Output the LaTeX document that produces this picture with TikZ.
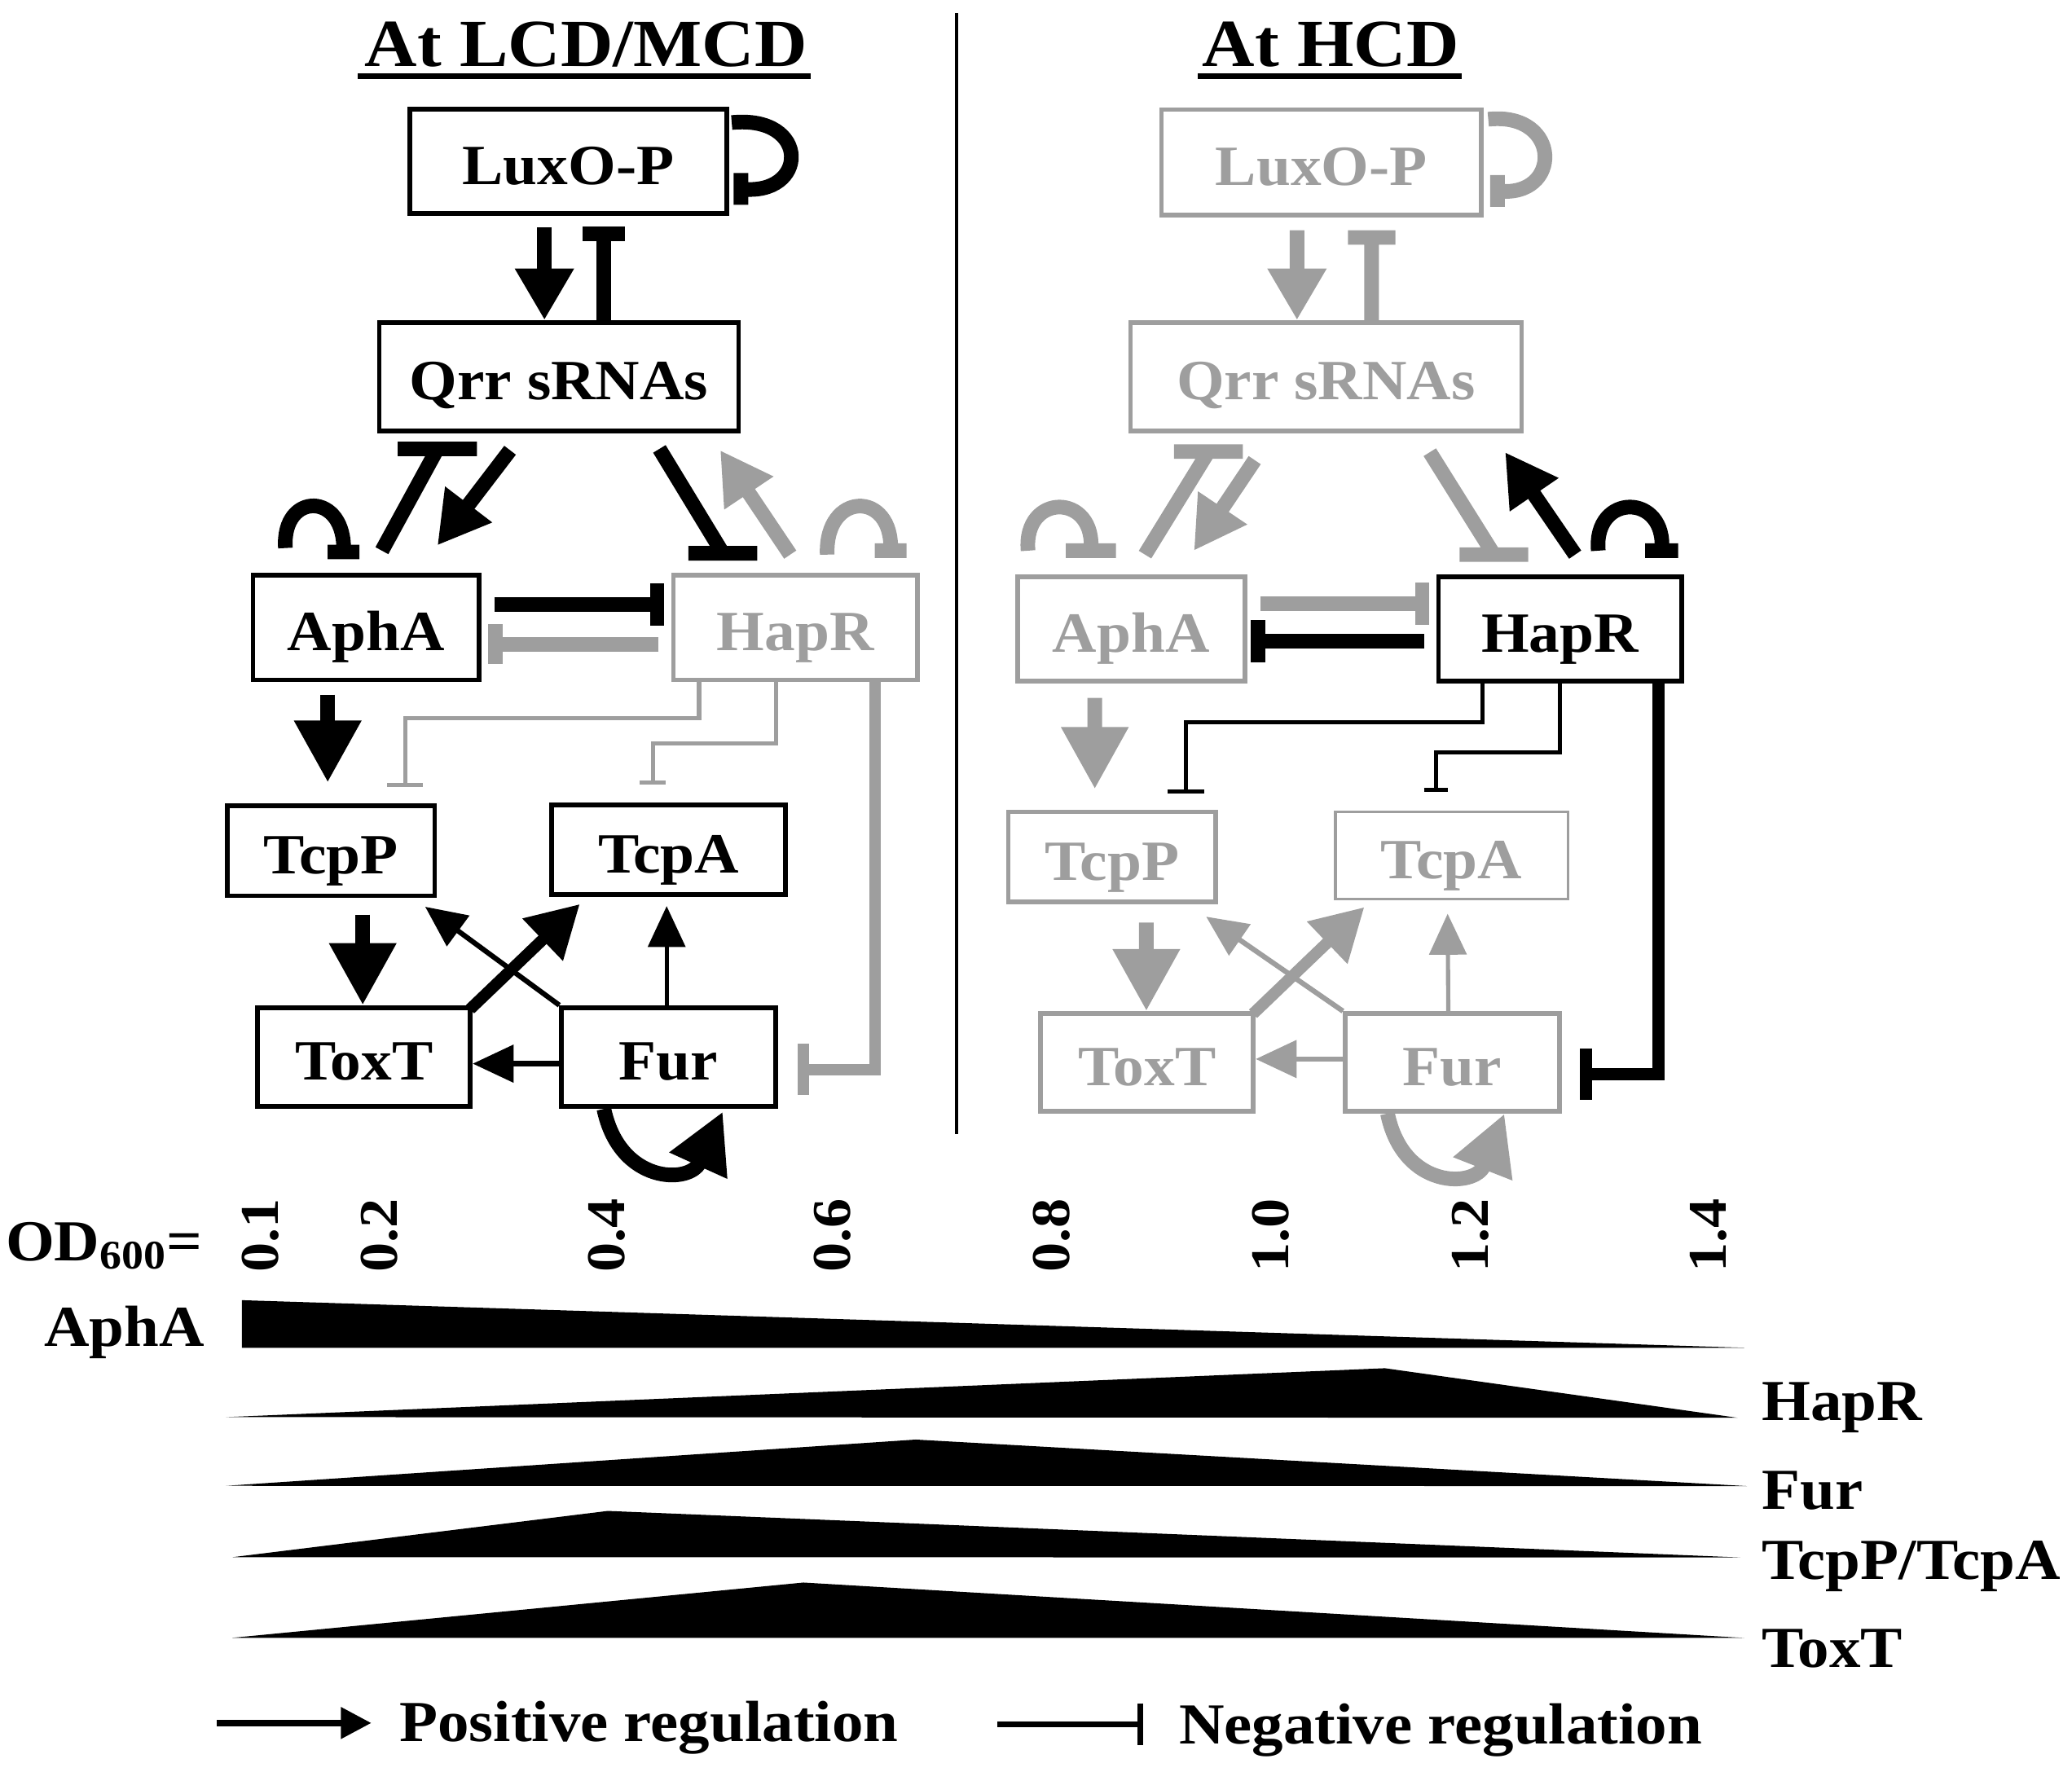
\documentclass[tikz,border=0pt]{standalone}
\usepackage{fontspec}
\setmainfont{Liberation Serif}[FakeStretch=1.08]
\usepackage{tikz}
\usetikzlibrary{arrows.meta, calc, positioning}
\definecolor{qsgrey}{gray}{0.62}
\tikzstyle{box}=[rectangle, draw, line width=2pt, inner sep=0pt, text height=24pt, text depth=4pt, font=\fontsize{24.5}{28}\selectfont\bfseries]
\tikzstyle{ttl}=[inner sep=0pt, font=\fontsize{29}{34}\selectfont\bfseries]
\tikzstyle{lbl}=[inner sep=0pt, font=\fontsize{25}{30}\selectfont\bfseries]
\tikzstyle{ticklbl}=[inner sep=0pt, rotate=90, font=\fontsize{23.5}{28}\selectfont\bfseries]
\tikzstyle{fat}=[line width=6.3pt]
\tikzstyle{med}=[line width=5pt]
\tikzstyle{slim}=[line width=2.2pt]
\tikzstyle{hair}=[line width=1.8pt]
\tikzstyle{legline}=[line width=2.6pt]
\tikzstyle{bighead}=[-{Triangle[length=0.94cm, width=0.96cm]}]
\tikzstyle{midhead}=[-{Triangle[length=0.78cm, width=0.84cm]}]
\tikzstyle{loophead}=[-{Triangle[length=0.9cm, width=0.9cm]}]
\tikzstyle{smallhead}=[-{Triangle[length=0.62cm, width=0.56cm]}]
\tikzset{hbar/.style={to path={-- (\tikztotarget) +(-#1,0) -- +(#1,0)}},
         vbar/.style={to path={-- (\tikztotarget) +(0,-#1) -- +(0,#1)}}}

\begin{document}
\begin{tikzpicture}[x=0.02cm, y=-0.02cm]
\useasboundingbox (0,0) rectangle (1568,1341);

\node[ttl, anchor=base] (ttlL) at (443.5,50) {At LCD/MCD};
\draw[line width=2.3pt] ($(ttlL.base west)+(-5,7.5)$) -- ($(ttlL.base east)+(2,7.5)$);
\node[ttl, anchor=base] (ttlR) at (1007,50) {At HCD};
\draw[line width=2.3pt] ($(ttlR.base west)+(-3,7.5)$) -- ($(ttlR.base east)+(2,7.5)$);
\draw[line width=1.4pt] (724,10) -- (724,858);

      \node[box] (luxoL) at (430,122) [minimum width=4.8cm, minimum height=1.58cm] {LuxO-P};
      \node[box] (qrrL) at (423,285) [minimum width=5.44cm, minimum height=1.64cm] {Qrr sRNAs};
      \node[box] (aphaL) at (277,475) [minimum width=3.42cm, minimum height=1.58cm] {AphA};
      \node[box, qsgrey] (haprL) at (602,475) [minimum width=3.7cm, minimum height=1.58cm] {HapR};
      \node[box] (tcppL) at (250.5,644) [minimum width=3.14cm, minimum height=1.36cm] {TcpP};
      \node[box] (tcpaL) at (506,643) [minimum width=3.54cm, minimum height=1.36cm] {TcpA};
      \node[box] (toxtL) at (275.5,800) [minimum width=3.22cm, minimum height=1.5cm] {ToxT};
      \node[box] (furL) at (506,800) [minimum width=3.24cm, minimum height=1.5cm] {Fur};

      \draw[fat] ($(luxoL.north east)+(2,12)$) .. controls +(60,-6) and +(51,6) .. ($(luxoL.east)+(9,21)$) +(0,-12) -- +(0,12);
      \draw[fat, midhead] ($(luxoL.south)+(-18,9)$) -- ($(qrrL.north)+(-11,0)$);
      \draw[fat] ($(qrrL.north)+(34,0)$) to[hbar=16] ($(luxoL.south)+(27,14)$);
      \draw[fat] ($(aphaL.north)+(-61,-19)$) .. controls +(-3,-43) and +(2,-46) .. ($(aphaL.north)+(-17,-16)$) +(-12,0) -- +(12,0);
      \draw[fat] ($(aphaL.north)+(12,-17)$) to[hbar=30] ($(qrrL.south)+(-92,12)$);
      \draw[fat, midhead] ($(qrrL.south)+(-37,13)$) -- ($(aphaL.north)+(54,-21)$);
      \draw[fat] ($(qrrL.south)+(76,12)$) to[hbar=26] ($(haprL.north)+(-55,-15)$);
      \draw[fat, midhead, qsgrey] ($(haprL.north)+(-4,-14)$) -- ($(qrrL.south)+(122,13)$);
      \draw[fat, qsgrey] ($(haprL.north)+(24,-14)$) .. controls +(-2,-48) and +(2,-46) .. ($(haprL.north)+(72,-17)$) +(-12,0) -- +(12,0);
      \draw[fat] ($(aphaL.east)+(10,-17.5)$) to[vbar=16] ($(haprL.west)+(-10.5,-17.5)$);
      \draw[fat, qsgrey] ($(haprL.west)+(-9.5,12.5)$) to[vbar=15] ($(aphaL.east)+(10.5,12.5)$);
      \draw[fat, bighead] ($(aphaL.south)+(-29,9.5)$) -- ($(tcppL.north)+(-2.5,-16)$);
      \draw[hair, qsgrey] ($(haprL.south)+(-73,0)$) |- ($(tcppL.north)+(56,-64.5)$) to[hbar=13.5] ($(tcppL.north)+(56,-14)$);
      \draw[hair, qsgrey] ($(haprL.south)+(-14.5,0)$) |- ($(tcpaL.north)+(-12,-44.5)$) to[hbar=10] ($(tcpaL.north)+(-12,-15)$);
      \draw[med, qsgrey] ($(haprL.south)+(60,0)$) |- ($(furL.east)+(19,9.5)$) +(0,-19.5) -- +(0,19.5);
      \draw[fat, bighead] ($(tcppL.south)+(24,12.5)$) -- ($(toxtL.north)+(-1,0)$);
      \draw[med, midhead] ($(toxtL.north east)+(-2,3)$) -- ($(tcpaL.south west)+(23,5.5)$);
      \draw[slim, smallhead] (furL.north west) -- ($(tcppL.south east)+(-9,6.5)$);
      \draw[hair, smallhead] ($(furL.north)+(-1.5,0)$) -- ($(tcpaL.south)+(-1.5,7)$);
      \draw[slim, smallhead] ($(furL.west)+(0,5)$) -- ($(toxtL.east)+(0,5)$);
      \draw[fat, loophead] ($(furL.south)+(-49,0)$) .. controls +(12,57) and +(-25,55) .. ($(furL.south)+(41,2)$);

      \node[box, qsgrey] (luxoR) at (1000,123) [minimum width=4.84cm, minimum height=1.6cm] {LuxO-P};
      \node[box, qsgrey] (qrrR) at (1003.5,285) [minimum width=5.92cm, minimum height=1.64cm] {Qrr sRNAs};
      \node[box, qsgrey] (aphaR) at (856,476) [minimum width=3.44cm, minimum height=1.58cm] {AphA};
      \node[box] (haprR) at (1180.5,476) [minimum width=3.68cm, minimum height=1.58cm] {HapR};
      \node[box, qsgrey] (tcppR) at (841.5,648.5) [minimum width=3.14cm, minimum height=1.36cm] {TcpP};
      \node[box, qsgrey, line width=1.2pt] (tcpaR) at (1098.5,647.5) [minimum width=3.52cm, minimum height=1.32cm] {TcpA};
      \node[box, qsgrey] (toxtR) at (868,804) [minimum width=3.22cm, minimum height=1.48cm] {ToxT};
      \node[box, qsgrey] (furR) at (1099,804) [minimum width=3.24cm, minimum height=1.48cm] {Fur};

      \draw[fat, qsgrey] ($(luxoR.north east)+(3.5,9)$) .. controls +(56,-6) and +(49,6) .. ($(luxoR.east)+(10.5,21.5)$) +(0,-12) -- +(0,12);
      \draw[fat, midhead, qsgrey] ($(luxoR.south)+(-18.5,9.5)$) -- ($(qrrR.north)+(-22,0)$);
      \draw[fat, qsgrey] ($(qrrR.north)+(34.5,0)$) to[hbar=18] ($(luxoR.south)+(38,15)$);
      \draw[fat, qsgrey] ($(aphaR.north)+(-78,-18)$) .. controls +(-4,-44) and +(4,-44) .. ($(aphaR.north)+(-30.5,-18)$) +(-19,0) -- +(19,0);
      \draw[fat, qsgrey] ($(aphaR.north)+(10.5,-15)$) to[hbar=26] ($(qrrR.south)+(-89,14)$);
      \draw[fat, midhead, qsgrey] ($(qrrR.south)+(-54,20.5)$) -- ($(aphaR.north)+(47.5,-18)$);
      \draw[fat, qsgrey] ($(qrrR.south)+(78.5,14.5)$) to[hbar=26] ($(haprR.north)+(-50,-15)$);
      \draw[fat, midhead] ($(haprR.north)+(11.5,-15)$) -- ($(qrrR.south)+(135.5,14.5)$);
      \draw[fat] ($(haprR.north)+(29,-18)$) .. controls +(-4,-44) and +(4,-44) .. ($(haprR.north)+(77,-18)$) +(-12.5,0) -- +(12.5,0);
      \draw[fat, qsgrey] ($(aphaR.east)+(10,-19)$) to[vbar=16] ($(haprR.west)+(-10.5,-19)$);
      \draw[fat] ($(haprR.west)+(-9,9.5)$) to[vbar=16] ($(aphaR.east)+(8.5,9.5)$);
      \draw[fat, bighead, qsgrey] ($(aphaR.south)+(-27.5,11)$) -- ($(tcppR.north)+(-13,-15.5)$);
      \draw[hair] ($(haprR.south)+(-58.5,0)$) |- ($(tcppR.north)+(56,-66)$) to[hbar=14] ($(tcppR.north)+(56,-14)$);
      \draw[hair] (haprR.south) |- ($(tcpaR.north)+(-12,-44)$) to[hbar=9] ($(tcpaR.north)+(-12,-15.5)$);
      \draw[med] ($(haprR.south)+(74.5,0)$) |- ($(furR.east)+(18.5,9)$) +(0,-19.5) -- +(0,19.5);
      \draw[fat, bighead, qsgrey] ($(tcppR.south)+(26,14)$) -- ($(toxtR.north)+(-0.5,0)$);
      \draw[med, midhead, qsgrey] ($(toxtR.north east)+(-2,2)$) -- ($(tcpaR.south west)+(23,5)$);
      \draw[slim, smallhead, qsgrey] (furR.north west) -- ($(tcppR.south east)+(-9,9.5)$);
      \draw[hair, smallhead, qsgrey] ($(furR.north)+(-3,0)$) -- ($(tcpaR.south)+(-3,10)$);
      \draw[slim, smallhead, qsgrey] ($(furR.west)+(0,-2.5)$) -- ($(toxtR.east)+(0,-2.5)$);
      \draw[fat, loophead, qsgrey] ($(furR.south)+(-49,0)$) .. controls +(12,58) and +(-22,56) .. ($(furR.south)+(39.5,0)$);

\node[lbl, anchor=base west] (odlbl) at (4,954) {OD\textsubscript{600}=};
\foreach \tx/\tl [count=\i] in {197/0.1, 287/0.2, 459/0.4, 630/0.6, 796/0.8, 962/1.0, 1113/1.2, 1293/1.4}
   \node[ticklbl] (tick\i) at (\tx,935) {\tl};

\fill (183,984) -- (1320,1020) -- (183,1020) -- cycle;
\fill (171,1072.5) -- (1048,1035.5) -- (1315,1073) -- cycle;
\fill (171,1124.5) -- (693,1089.5) -- (1322,1124.7) -- cycle;
\fill (176,1178.5) -- (460,1143.5) -- (1317,1178.7) -- cycle;
\fill (176,1239.5) -- (608,1197.7) -- (1320,1239.6) -- cycle;

\node[lbl, anchor=base east] (aphalbl) at (155,1019) {AphA};
\node[lbl, anchor=base west] (haprlbl) at (1333,1075) {HapR};
\node[lbl, anchor=base west] (furlbl) at (1333,1142) {Fur};
\node[lbl, anchor=base west] (tcplbl) at (1333,1195.5) {TcpP/TcpA};
\node[lbl, anchor=base west] (toxtlbl) at (1333,1262) {ToxT};

\coordinate (posA) at (164,1304);
\coordinate (posB) at (281,1304);
\draw[legline, -{Triangle[length=0.46cm, width=0.46cm]}] (posA) -- (posB);
\node[lbl, anchor=base west] (postxt) at (302,1318) {Positive regulation};
\coordinate (negA) at (755,1305);
\coordinate (negB) at (863,1305);
\draw[legline] (negA) to[vbar=16] (negB);
\node[lbl, anchor=base west] (negtxt) at (892,1320) {Negative regulation};
\end{tikzpicture}
\end{document}
